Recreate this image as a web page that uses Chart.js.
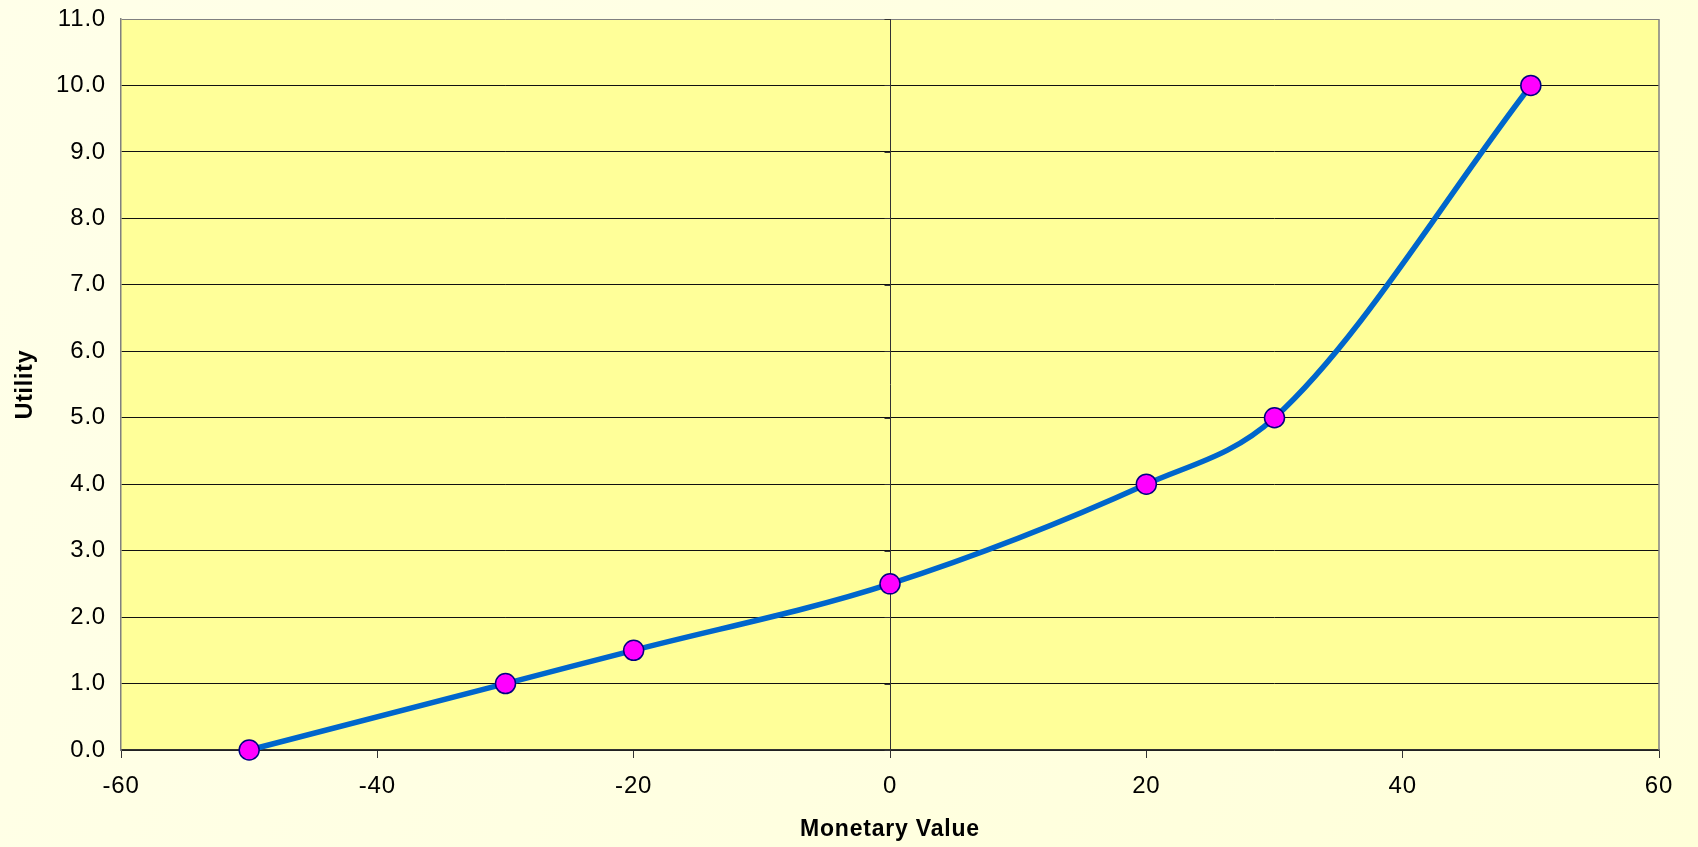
<!DOCTYPE html>
<html>
<head>
<meta charset="utf-8">
<title>Utility Curve</title>
<script src="https://cdn.jsdelivr.net/npm/chart.js@4/dist/chart.umd.min.js"></script>
<style>
  html, body { margin: 0; padding: 0; background: #FFFFE0; }
  #wrap { width: 1698px; height: 847px; }
</style>
</head>
<body>
<div id="wrap"><canvas id="chart" width="1698" height="847"></canvas></div>
<script>
// Monetary values and their utilities
const monetaryValues = [-50, -30, -20, 0, 20, 30, 50];
const utilities = [0.0, 1.0, 1.5, 2.5, 4.0, 5.0, 10.0];

// Axis ranges and tick steps
const xRange = [-60, 60];
const xStep = 20;
const yRange = [0, 11];
const yStep = 1;

const points = monetaryValues.map((v, i) => ({ x: v, y: utilities[i] }));

const FONT = "'Liberation Sans', Arial, sans-serif";
const SPACING = '0.8px';

// Slightly widened lettering, set on every pass before measuring/drawing
const letterSpacingPlugin = {
  id: 'letterSpacing',
  beforeUpdate(chart) { chart.ctx.letterSpacing = SPACING; },
  beforeLayout(chart) { chart.ctx.letterSpacing = SPACING; },
  beforeDraw(chart) { chart.ctx.letterSpacing = SPACING; }
};

// Page and plot-area fills
const backgroundPlugin = {
  id: 'backgrounds',
  beforeDraw(chart) {
    const { ctx, chartArea: a, width, height } = chart;
    ctx.save();
    const g = ctx.createLinearGradient(0, 0, width, height);
    g.addColorStop(0, '#FFFFE9');
    g.addColorStop(1, '#FFFFD9');
    ctx.fillStyle = g;
    ctx.fillRect(0, 0, width, height);
    ctx.fillStyle = '#FFFF99';
    ctx.fillRect(a.left, a.top, a.right - a.left, a.bottom - a.top);
    ctx.restore();
  }
};

// Right border of the plot area and the vertical axis crossing at x = 0
const axesPlugin = {
  id: 'crossAxis',
  beforeDatasetsDraw(chart) {
    const { ctx, chartArea: a, scales } = chart;
    ctx.save();
    ctx.strokeStyle = '#808080';
    ctx.lineWidth = 1.5;
    ctx.beginPath();
    ctx.moveTo(a.right, a.top);
    ctx.lineTo(a.right, a.bottom);
    ctx.stroke();

    const x0 = Math.round(scales.x.getPixelForValue(0)) + 0.5;
    ctx.strokeStyle = '#333333';
    ctx.lineWidth = 1;
    ctx.beginPath();
    ctx.moveTo(x0, a.top);
    ctx.lineTo(x0, a.bottom);
    scales.y.ticks.forEach(t => {
      const py = Math.round(scales.y.getPixelForValue(t.value)) + 0.5;
      ctx.moveTo(x0 - 6, py);
      ctx.lineTo(x0, py);
    });
    ctx.stroke();
    ctx.restore();
  }
};

new Chart(document.getElementById('chart'), {
  type: 'scatter',
  data: {
    datasets: [{
      label: 'Utility',
      data: points,
      showLine: true,
      cubicInterpolationMode: 'monotone',
      clip: false,
      borderColor: '#0066CC',
      borderWidth: 5.5,
      pointRadius: 10,
      pointHoverRadius: 10,
      pointBackgroundColor: '#FF00FF',
      pointBorderColor: '#000080',
      pointBorderWidth: 1.5
    }]
  },
  options: {
    responsive: false,
    animation: false,
    devicePixelRatio: 1,
    layout: { padding: { top: 19, right: 39, left: 0, bottom: 0 } },
    plugins: {
      legend: { display: false },
      tooltip: { enabled: false }
    },
    scales: {
      x: {
        type: 'linear',
        min: xRange[0],
        max: xRange[1],
        afterFit(scale) {
          scale.height = 97;
          scale.paddingLeft = 0;
          scale.paddingRight = 0;
        },
        ticks: {
          stepSize: xStep,
          color: '#000000',
          padding: 14,
          maxRotation: 0,
          font: { family: FONT, size: 24, lineHeight: 1.2 }
        },
        grid: {
          drawOnChartArea: false,
          drawTicks: true,
          tickLength: 8,
          color: '#333333',
          lineWidth: 1
        },
        border: { display: true, color: '#333333', width: 1.5 },
        title: {
          display: true,
          text: 'Monetary Value',
          color: '#000000',
          font: { family: FONT, size: 23, weight: 'bold', lineHeight: 1.2 },
          padding: { top: 0, bottom: 4 }
        }
      },
      y: {
        type: 'linear',
        min: yRange[0],
        max: yRange[1],
        afterFit(scale) {
          scale.width = 121;
          scale.paddingTop = 0;
          scale.paddingBottom = 0;
        },
        ticks: {
          stepSize: yStep,
          color: '#000000',
          padding: 15,
          font: { family: FONT, size: 24, lineHeight: 1.2 },
          callback: v => Number(v).toFixed(1)
        },
        grid: {
          drawTicks: false,
          lineWidth: 1,
          color: ctx => (ctx.tick && ctx.tick.value === yRange[1]) ? '#808080' : '#111111'
        },
        border: { display: true, color: '#808080', width: 1.5 },
        title: {
          display: true,
          text: 'Utility',
          color: '#000000',
          font: { family: FONT, size: 23, weight: 'bold', lineHeight: 1.2 },
          padding: { top: 12, bottom: 0 }
        }
      }
    }
  },
  plugins: [letterSpacingPlugin, backgroundPlugin, axesPlugin]
});
</script>
</body>
</html>
